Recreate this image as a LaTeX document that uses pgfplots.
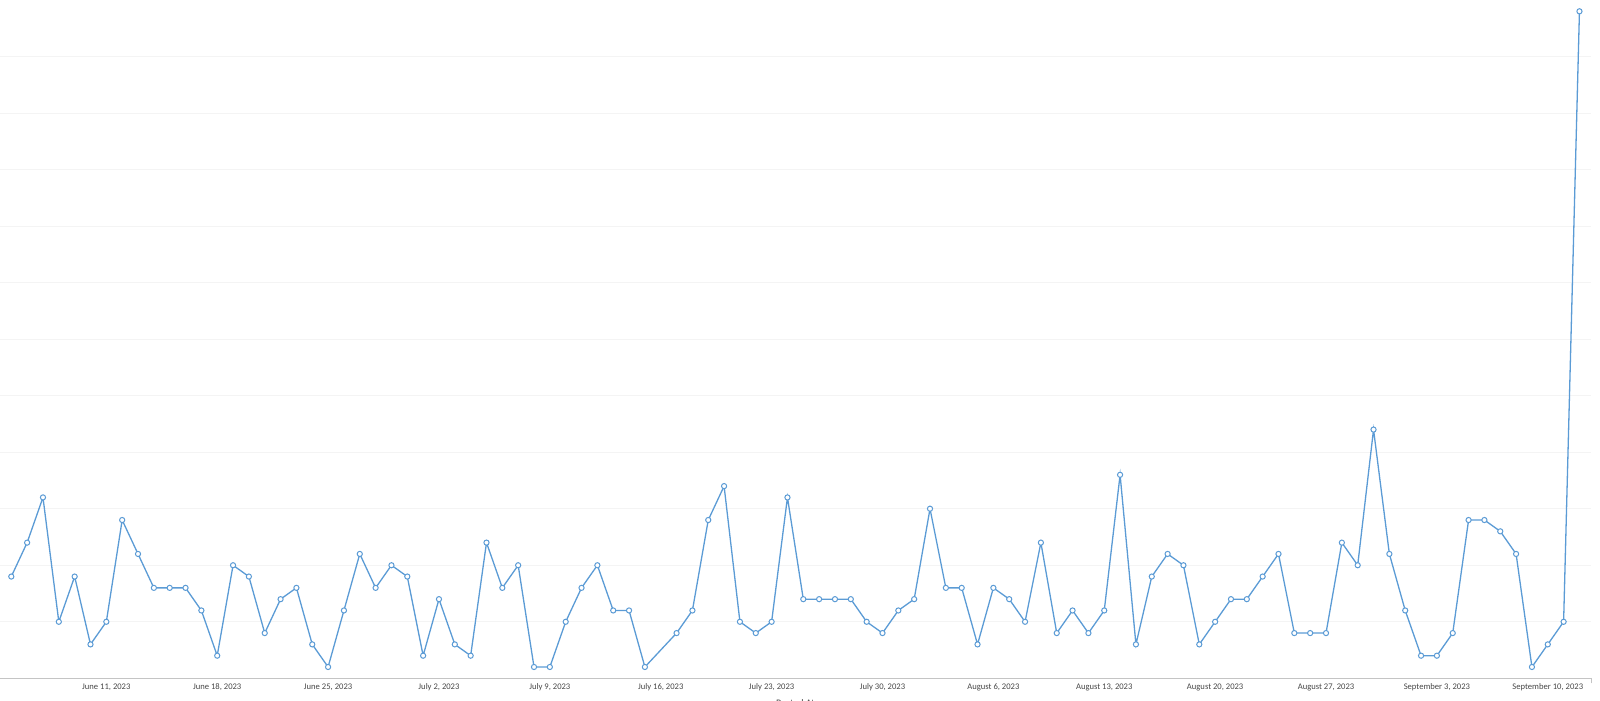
\documentclass[border=0pt]{standalone}
\usepackage{fontspec}
\setmainfont{Carlito}
\usepackage{pgfplots}
\pgfplotsset{compat=1.18}
\definecolor{lineblue}{HTML}{5B9BD5}
\definecolor{gridc}{HTML}{F4F4F4}
\definecolor{axisc}{HTML}{C4C4C4}
\definecolor{labc}{HTML}{474747}
\begin{document}
\begin{tikzpicture}
\useasboundingbox (0pt,-11.35pt) rectangle (800pt,339.15pt);
\clip (0pt,-11.35pt) rectangle (800pt,339.15pt);
\begin{axis}[
  at={(0pt,0pt)}, anchor=south west,
  scale only axis, width=795.5pt, height=339.15pt,
  xmin=-0.713, xmax=99.73, ymin=0, ymax=60,
  axis x line*=bottom, axis y line*=left,
  x axis line style={draw=axisc, line width=0.5pt, -},
  y axis line style={draw=none},
  xtick={6,13,...,97},
  xticklabels={{June 11, 2023},{June 18, 2023},{June 25, 2023},{July 2, 2023},{July 9, 2023},{July 16, 2023},{July 23, 2023},{July 30, 2023},{August 6, 2023},{August 13, 2023},{August 20, 2023},{August 27, 2023},{September 3, 2023},{September 10, 2023}},
  xticklabel style={font=\fontsize{4.3}{5}\selectfont, text=labc, anchor=center, yshift=-4.5pt},
  major tick length=0pt,
  extra x ticks={99.73}, extra x tick labels={},
  extra x tick style={major tick length=2.5pt, tick align=outside, tick style={draw=axisc, line width=0.5pt}},
  ytick={5,10,...,55}, yticklabels={},
  ymajorgrids, grid style={draw=gridc, line width=0.4pt},
  xlabel={Posted At},
  xlabel style={font=\fontsize{5}{6}\selectfont, text=labc, at={(axis description cs:0.5,0)}, anchor=north, inner sep=0pt, yshift=-10.5pt},
]
\addplot[color=lineblue, line width=0.65pt, mark=*, mark size=1.3pt,
  mark options={fill=white, draw=lineblue, line width=0.5pt}] coordinates {
(0,9) (1,12) (2,16) (3,5) (4,9) (5,3) (6,5) (7,14) (8,11) (9,8)
(10,8) (11,8) (12,6) (13,2) (14,10) (15,9) (16,4) (17,7) (18,8) (19,3)
(20,1) (21,6) (22,11) (23,8) (24,10) (25,9) (26,2) (27,7) (28,3) (29,2)
(30,12) (31,8) (32,10) (33,1) (34,1) (35,5) (36,8) (37,10) (38,6) (39,6)
(40,1) (42,4) (43,6) (44,14) (45,17) (46,5) (47,4) (48,5) (49,16)
(50,7) (51,7) (52,7) (53,7) (54,5) (55,4) (56,6) (57,7) (58,15) (59,8)
(60,8) (61,3) (62,8) (63,7) (64,5) (65,12) (66,4) (67,6) (68,4) (69,6)
(70,18) (71,3) (72,9) (73,11) (74,10) (75,3) (76,5) (77,7) (78,7) (79,9)
(80,11) (81,4) (82,4) (83,4) (84,12) (85,10) (86,22) (87,11) (88,6) (89,2)
(90,2) (91,4) (92,14) (93,14) (94,13) (95,11) (96,1) (97,3) (98,5) (99,59)
};
\end{axis}
\end{tikzpicture}
\end{document}
